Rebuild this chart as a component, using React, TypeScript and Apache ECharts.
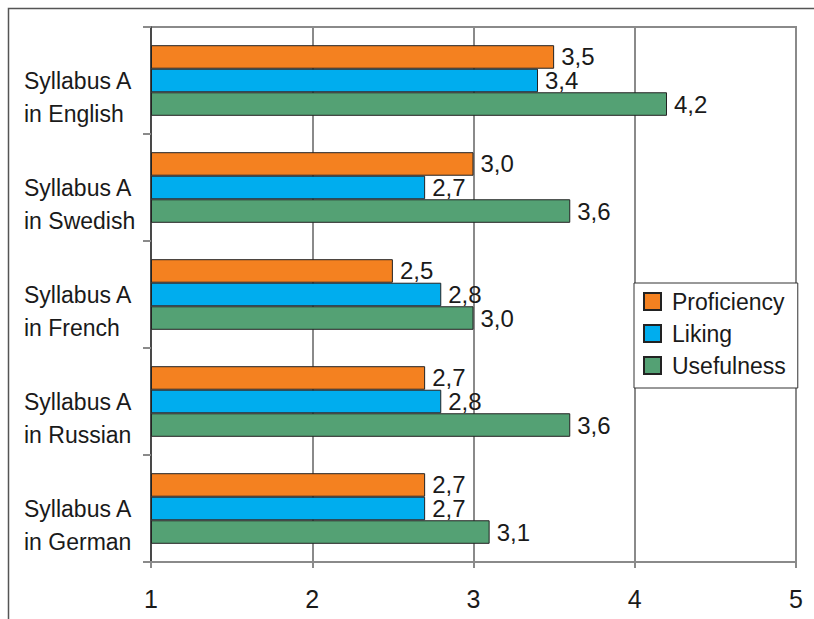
import React, { useEffect, useRef } from "react";
import * as echarts from "echarts";

const categories = [
  "Syllabus A\nin English",
  "Syllabus A\nin Swedish",
  "Syllabus A\nin French",
  "Syllabus A\nin Russian",
  "Syllabus A\nin German",
];
const proficiency = [3.5, 3.0, 2.5, 2.7, 2.7];
const liking = [3.4, 2.7, 2.8, 2.8, 2.7];
const usefulness = [4.2, 3.6, 3.0, 3.6, 3.1];
const seriesNames = ["Proficiency", "Liking", "Usefulness"];
const colors = ["#F48120", "#00ADEE", "#54A174"];

const SANS = '"Liberation Sans", Arial, sans-serif';

export default function App() {
  const ref = useRef<HTMLDivElement>(null);
  useEffect(() => {
    document.body.style.margin = "0";
    const chart = echarts.init(ref.current!, null, { renderer: "svg" });
    const values = [proficiency, liking, usefulness];
    chart.setOption({
      animation: false,
      backgroundColor: "#ffffff",
      graphic: [
        {
          type: "rect",
          shape: { x: 8.5, y: 8.5, width: 2000, height: 2000 },
          style: { fill: "none", stroke: "#555", lineWidth: 1.5 },
          silent: true,
          z: -1,
        },
      ],
      grid: {
        left: 151,
        right: 18,
        top: 27,
        bottom: 57,
        show: true,
        borderColor: "#8a8a8a",
        borderWidth: 2,
        containLabel: false,
      },
      legend: {
        orient: "vertical",
        left: 634,
        top: 283,
        data: seriesNames,
        icon: "rect",
        itemWidth: 17,
        itemHeight: 17,
        itemGap: 9,
        padding: [7, 12, 11, 9],
        borderColor: "#333",
        borderWidth: 1,
        backgroundColor: "#ffffff",
        textStyle: {
          fontFamily: SANS,
          fontSize: 23,
          color: "#1a1a1a",
          padding: [0, 0, 0, 6],
        },
      },
      xAxis: {
        type: "value",
        min: 1,
        max: 5,
        interval: 1,
        startValue: 1,
        axisLine: { show: true, lineStyle: { color: "#8a8a8a", width: 2 } },
        axisTick: { show: true, length: 6, lineStyle: { color: "#8a8a8a", width: 2 } },
        splitLine: { show: true, lineStyle: { color: "#8a8a8a", width: 2 } },
        axisLabel: {
          fontFamily: SANS,
          fontSize: 25,
          color: "#1a1a1a",
          margin: 24,
        },
      },
      yAxis: {
        type: "category",
        inverse: true,
        data: categories,
        axisLine: { show: true, lineStyle: { color: "#333", width: 1.5 } },
        axisTick: { show: true, length: 8, lineStyle: { color: "#8a8a8a", width: 2 } },
        axisLabel: {
          fontFamily: SANS,
          fontSize: 23,
          lineHeight: 33,
          color: "#1a1a1a",
          align: "left",
          margin: 127,
          formatter: (v: string) => "\n" + v,
        },
      },
      series: seriesNames.map((name, i) => ({
        name,
        type: "bar",
        data: values[i],
        barGap: "0%",
        barCategoryGap: "34%",
        itemStyle: { color: colors[i], borderColor: "#222", borderWidth: 1 },
        label: {
          show: true,
          position: "right",
          distance: 7,
          fontFamily: SANS,
          fontSize: 24,
          color: "#1a1a1a",
          formatter: (p: any) => Number(p.value).toFixed(1).replace(".", ","),
        },
      })),
    });
    return () => chart.dispose();
  }, []);
  return (
    <div
      ref={ref}
      style={{ position: "fixed", left: 0, top: 0, width: 814, height: 619 }}
    />
  );
}
